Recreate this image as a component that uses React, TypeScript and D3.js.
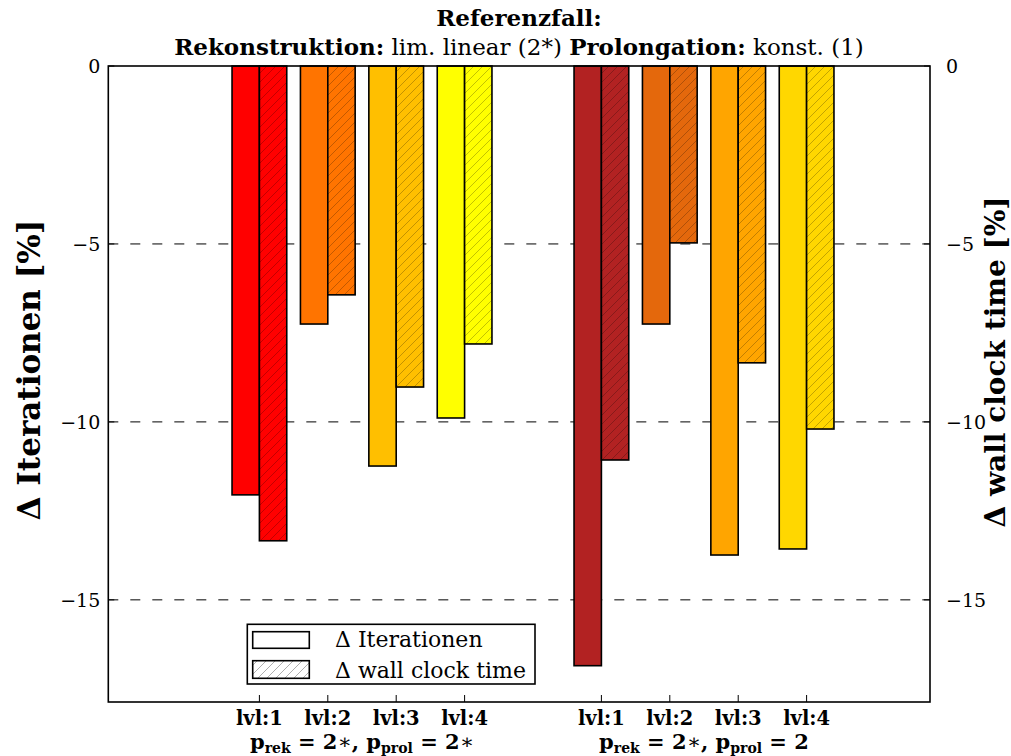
import React from "react";
import * as d3 from "d3";

// Bar positions: each level has an iteration bar (left of tick) and a wall-clock bar (right of tick)
const levels = ["lvl:1", "lvl:2", "lvl:3", "lvl:4"];
const posA = [1, 2, 3, 4];
const posB = [6, 7, 8, 9];

// Δ Iterationen [%]
const iterA = [-12.05, -7.25, -11.24, -9.89];
const iterB = [-16.85, -7.25, -13.74, -13.57];
// Δ wall clock time [%]
const timeA = [-13.34, -6.43, -9.02, -7.81];
const timeB = [-11.07, -4.97, -8.34, -10.2];

const colorsA = ["#ff0000", "#ff7400", "#ffbf00", "#ffff00"];
const colorsB = ["#b22222", "#e4680c", "#ffa500", "#ffd700"];

const yTicks = [0, -5, -10, -15];
const gridTicks = [-5, -10, -15];

const W = 1011;
const H = 756;
const FONT = "DejaVu Serif, serif";
const BAR_W = 0.4;

const x = d3.scaleLinear().domain([-1.209, 10.804]).range([108.3, 930]);
const y = d3.scaleLinear().domain([-17.87, 0]).range([702, 66]);

const fmt = (v: number) => (v < 0 ? "\u2212" + Math.abs(v) : String(v));

type Bar = { key: string; x0: number; v: number; color: string; hatched: boolean };

function buildBars(): Bar[] {
  const out: Bar[] = [];
  const add = (pos: number[], iter: number[], time: number[], cols: string[], g: string) => {
    pos.forEach((p, i) => {
      out.push({ key: `${g}i${i}`, x0: p - BAR_W, v: iter[i], color: cols[i], hatched: false });
      out.push({ key: `${g}t${i}`, x0: p, v: time[i], color: cols[i], hatched: true });
    });
  };
  add(posA, iterA, timeA, colorsA, "a");
  add(posB, iterB, timeB, colorsB, "b");
  return out;
}

const patId = (c: string) => "hatch-" + c.replace("#", "");

function GroupLabel({ cx, prol }: { cx: number; prol: string }) {
  return (
    <text x={cx} y={749} textAnchor="middle" fontFamily={FONT} fontSize={21} fontWeight="bold">
      <tspan>p</tspan>
      <tspan dy={4} fontSize={14}>rek</tspan>
      <tspan dy={-4}>{" = 2"}</tspan>
      <tspan fontWeight="normal">{"\u2217"}</tspan>
      <tspan>{", p"}</tspan>
      <tspan dy={4} fontSize={14}>prol</tspan>
      <tspan dy={-4}>{" = 2"}</tspan>
      {prol && <tspan fontWeight="normal">{prol}</tspan>}
    </text>
  );
}

export default function App() {
  const bars = buildBars();
  const allColors = [...colorsA, ...colorsB];
  const x0 = x.range()[0];
  const x1 = x.range()[1];
  const yTop = y(0);
  const yBot = y.range()[0];

  return (
    <svg
      width={W}
      height={H}
      style={{ position: "absolute", left: 0, top: 0, background: "#fff" }}
    >
      <defs>
        {allColors.map((c) => (
          <pattern key={c} id={patId(c)} patternUnits="userSpaceOnUse" width={9} height={9}>
            <path
              d="M0,9 L9,0 M-2,2 L2,-2 M7,11 L11,7"
              stroke={d3.color(c)!.darker(1.2).formatHex()}
              strokeWidth={0.8}
              strokeOpacity={0.85}
            />
          </pattern>
        ))}
        <pattern id="hatch-legend" patternUnits="userSpaceOnUse" width={9} height={9}>
          <path d="M0,9 L9,0 M-2,2 L2,-2 M7,11 L11,7" stroke="#999" strokeWidth={0.8} />
        </pattern>
      </defs>

      {/* dashed grid */}
      {gridTicks.map((t) => (
        <line
          key={t}
          x1={x0}
          x2={x1}
          y1={y(t)}
          y2={y(t)}
          stroke="#000"
          strokeWidth={1}
          strokeDasharray="10,12"
        />
      ))}

      {/* bars */}
      {bars.map((b) => {
        const bx = x(b.x0);
        const bw = x(b.x0 + BAR_W) - bx;
        const by = y(0);
        const bh = y(b.v) - by;
        return (
          <g key={b.key}>
            <rect x={bx} y={by} width={bw} height={bh} fill={b.color} />
            {b.hatched && <rect x={bx} y={by} width={bw} height={bh} fill={`url(#${patId(b.color)})`} />}
            <rect x={bx} y={by} width={bw} height={bh} fill="none" stroke="#000" strokeWidth={1.6} />
          </g>
        );
      })}

      {/* frame */}
      <rect x={x0} y={yTop} width={x1 - x0} height={yBot - yTop} fill="none" stroke="#000" strokeWidth={1.6} />

      {/* y ticks, both sides */}
      {yTicks.map((t) => (
        <g key={t}>
          <line x1={x0} x2={x0 + 6} y1={y(t)} y2={y(t)} stroke="#000" strokeWidth={1} />
          <line x1={x1 - 6} x2={x1} y1={y(t)} y2={y(t)} stroke="#000" strokeWidth={1} />
          <text x={x0 - 8} y={y(t) + 7} textAnchor="end" fontFamily={FONT} fontSize={19}>
            {fmt(t)}
          </text>
          <text x={x1 + 16} y={y(t) + 7} textAnchor="start" fontFamily={FONT} fontSize={19}>
            {fmt(t)}
          </text>
        </g>
      ))}

      {/* x ticks and level labels */}
      {[...posA, ...posB].map((p, i) => (
        <g key={p}>
          <line x1={x(p)} x2={x(p)} y1={yBot} y2={yBot - 7} stroke="#000" strokeWidth={1} />
          <text x={x(p)} y={725} textAnchor="middle" fontFamily={FONT} fontSize={19.5} fontWeight="bold">
            {levels[i % 4]}
          </text>
        </g>
      ))}

      <GroupLabel cx={x(2.5)} prol={"\u2217"} />
      <GroupLabel cx={x(7.5)} prol={""} />

      {/* axis labels */}
      <text
        transform={`translate(40,370) rotate(-90)`}
        textAnchor="middle"
        fontFamily={FONT}
        fontSize={31}
        fontWeight="bold"
      >
        {"\u0394 Iterationen [%]"}
      </text>
      <text
        transform={`translate(1005,362) rotate(-90)`}
        textAnchor="middle"
        fontFamily={FONT}
        fontSize={28}
        fontWeight="bold"
      >
        {"\u0394 wall clock time [%]"}
      </text>

      {/* title */}
      <text x={519} y={26} textAnchor="middle" fontFamily={FONT} fontSize={23} fontWeight="bold">
        Referenzfall:
      </text>
      <text x={519} y={55} textAnchor="middle" fontFamily={FONT} fontSize={23}>
        <tspan fontWeight="bold">Rekonstruktion:</tspan>
        <tspan>{" lim. linear (2*) "}</tspan>
        <tspan fontWeight="bold">Prolongation:</tspan>
        <tspan>{" konst. (1)"}</tspan>
      </text>

      {/* legend */}
      <g>
        <rect x={247.3} y={624.3} width={287.7} height={59.7} fill="#fff" stroke="#000" strokeWidth={1.6} />
        <rect x={252.7} y={631.7} width={56.6} height={16.6} fill="#fff" stroke="#000" strokeWidth={1.6} />
        <rect x={252.7} y={660.7} width={56.6} height={17.6} fill="url(#hatch-legend)" />
        <rect x={252.7} y={660.7} width={56.6} height={17.6} fill="none" stroke="#000" strokeWidth={1.6} />
        <text x={335} y={647} fontFamily={FONT} fontSize={22}>
          {"\u0394 Iterationen"}
        </text>
        <text x={335} y={677.5} fontFamily={FONT} fontSize={22}>
          {"\u0394 wall clock time"}
        </text>
      </g>
    </svg>
  );
}
